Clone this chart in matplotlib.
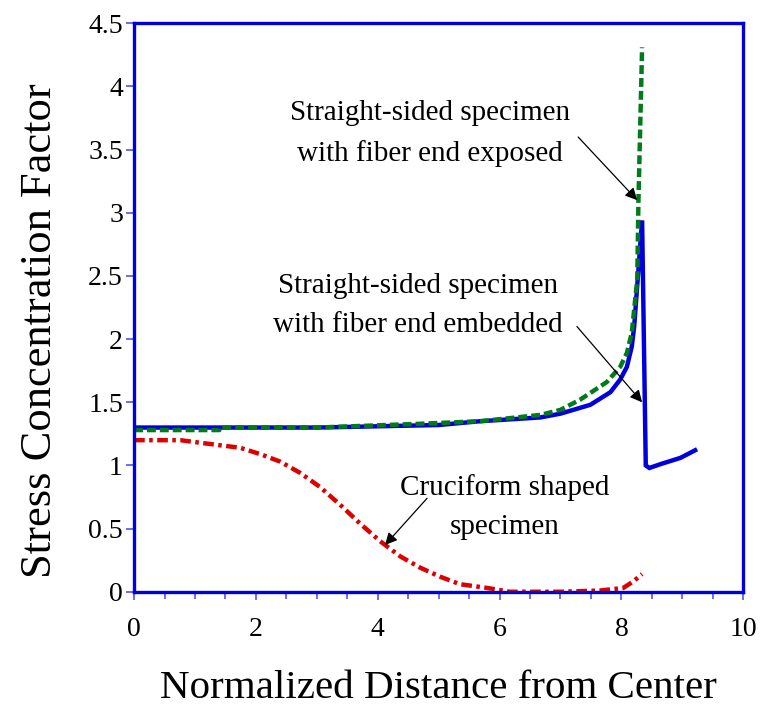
import numpy as np
import matplotlib.pyplot as plt
from matplotlib.ticker import MultipleLocator

plt.rcParams['font.family'] = ['Liberation Serif', 'DejaVu Serif']

# fiber end embedded (solid blue)
x_emb = [0, 1, 2, 3, 4, 5, 5.68, 6.67, 7.0, 7.49, 7.82, 7.98, 8.09, 8.17, 8.21, 8.34, 8.40, 8.46, 8.64, 8.97, 9.21]
y_emb = [1.30, 1.30, 1.30, 1.30, 1.31, 1.32, 1.35, 1.38, 1.41, 1.48, 1.58, 1.68, 1.78, 1.94, 2.10, 2.94, 1.00, 0.98, 1.01, 1.06, 1.12]

# fiber end exposed (dashed green)
x_exp = [0, 1.4, 1.41, 3, 4.7, 5.68, 6.67, 7.0, 7.32, 7.76, 7.98, 8.09, 8.17, 8.26, 8.28, 8.34]
y_exp = [1.28, 1.28, 1.30, 1.30, 1.33, 1.35, 1.40, 1.44, 1.52, 1.66, 1.78, 1.89, 2.05, 2.47, 3.10, 4.31]

# cruciform (dash-dot red)
x_cru = [0.0, 0.76, 1.08, 1.41, 1.74, 2.07, 2.40, 2.73, 3.05, 3.38, 3.71, 4.04, 4.37, 4.70,
         5.02, 5.35, 5.80, 6.17, 7.0, 7.65, 8.03, 8.19, 8.34]
y_cru = [1.20, 1.20, 1.18, 1.16, 1.14, 1.09, 1.03, 0.94, 0.83, 0.69, 0.54, 0.40, 0.28, 0.19,
         0.12, 0.06, 0.03, 0.0, 0.0, 0.01, 0.03, 0.08, 0.14]

fig = plt.figure(figsize=(7.75, 7.07), dpi=100)
ax = fig.add_axes([0.173, 0.163, 0.786, 0.804])

ax.plot(x_emb, y_emb, color='#0000dd', lw=3.2, solid_joinstyle='miter')
ax.plot(x_exp, y_exp, color='#007a1a', lw=3.2, linestyle=(0, (2.0, 0.9)))
ax.plot(x_cru, y_cru, color='#dd0000', lw=3.2, linestyle=(0, (2.4, 1.0, 0.8, 1.0)))

ax.set_xlim(0, 10)
ax.set_ylim(0, 4.5)
ax.xaxis.set_major_locator(MultipleLocator(2))
ax.xaxis.set_minor_locator(MultipleLocator(0.5))
ax.yaxis.set_major_locator(MultipleLocator(0.5))
ax.yaxis.set_major_formatter(plt.FuncFormatter(lambda v, p: '{:g}'.format(v)))
ax.xaxis.set_major_formatter(plt.FuncFormatter(lambda v, p: '{:g}'.format(v)))

for s in ax.spines.values():
    s.set_color('#0000dd')
    s.set_linewidth(2.4)
ax.tick_params(which='both', direction='out', color='#5555ee', labelsize=20, width=1.2)
ax.tick_params(which='major', length=6)
ax.tick_params(which='minor', length=5)
ax.tick_params(axis='x', pad=12)
ax.tick_params(axis='y', pad=2)

ax.set_xlabel('Normalized Distance from Center', fontsize=29.5, labelpad=20)
ax.set_ylabel('Stress Concentration Factor', fontsize=32)
ax.yaxis.set_label_coords(-0.122, 0.46)

arw = dict(arrowstyle='-|>', color='black', lw=0.9, mutation_scale=18, shrinkA=0, shrinkB=0)
txt = dict(fontsize=21, ha='center', va='center', linespacing=1.65)

ax.text(4.86, 3.63, 'Straight-sided specimen\nwith fiber end exposed', **txt)
ax.annotate('', xy=(8.26, 3.10), xytext=(7.29, 3.60), arrowprops=arw)

ax.text(4.66, 2.27, 'Straight-sided specimen\nwith fiber end embedded', **txt)
ax.annotate('', xy=(8.34, 1.50), xytext=(7.27, 2.10), arrowprops=arw)

ax.text(6.09, 0.67, 'Cruciform shaped\nspecimen', **txt)
ax.annotate('', xy=(4.12, 0.37), xytext=(4.81, 0.74), arrowprops=arw)

fig.savefig('out.png', dpi=100)
